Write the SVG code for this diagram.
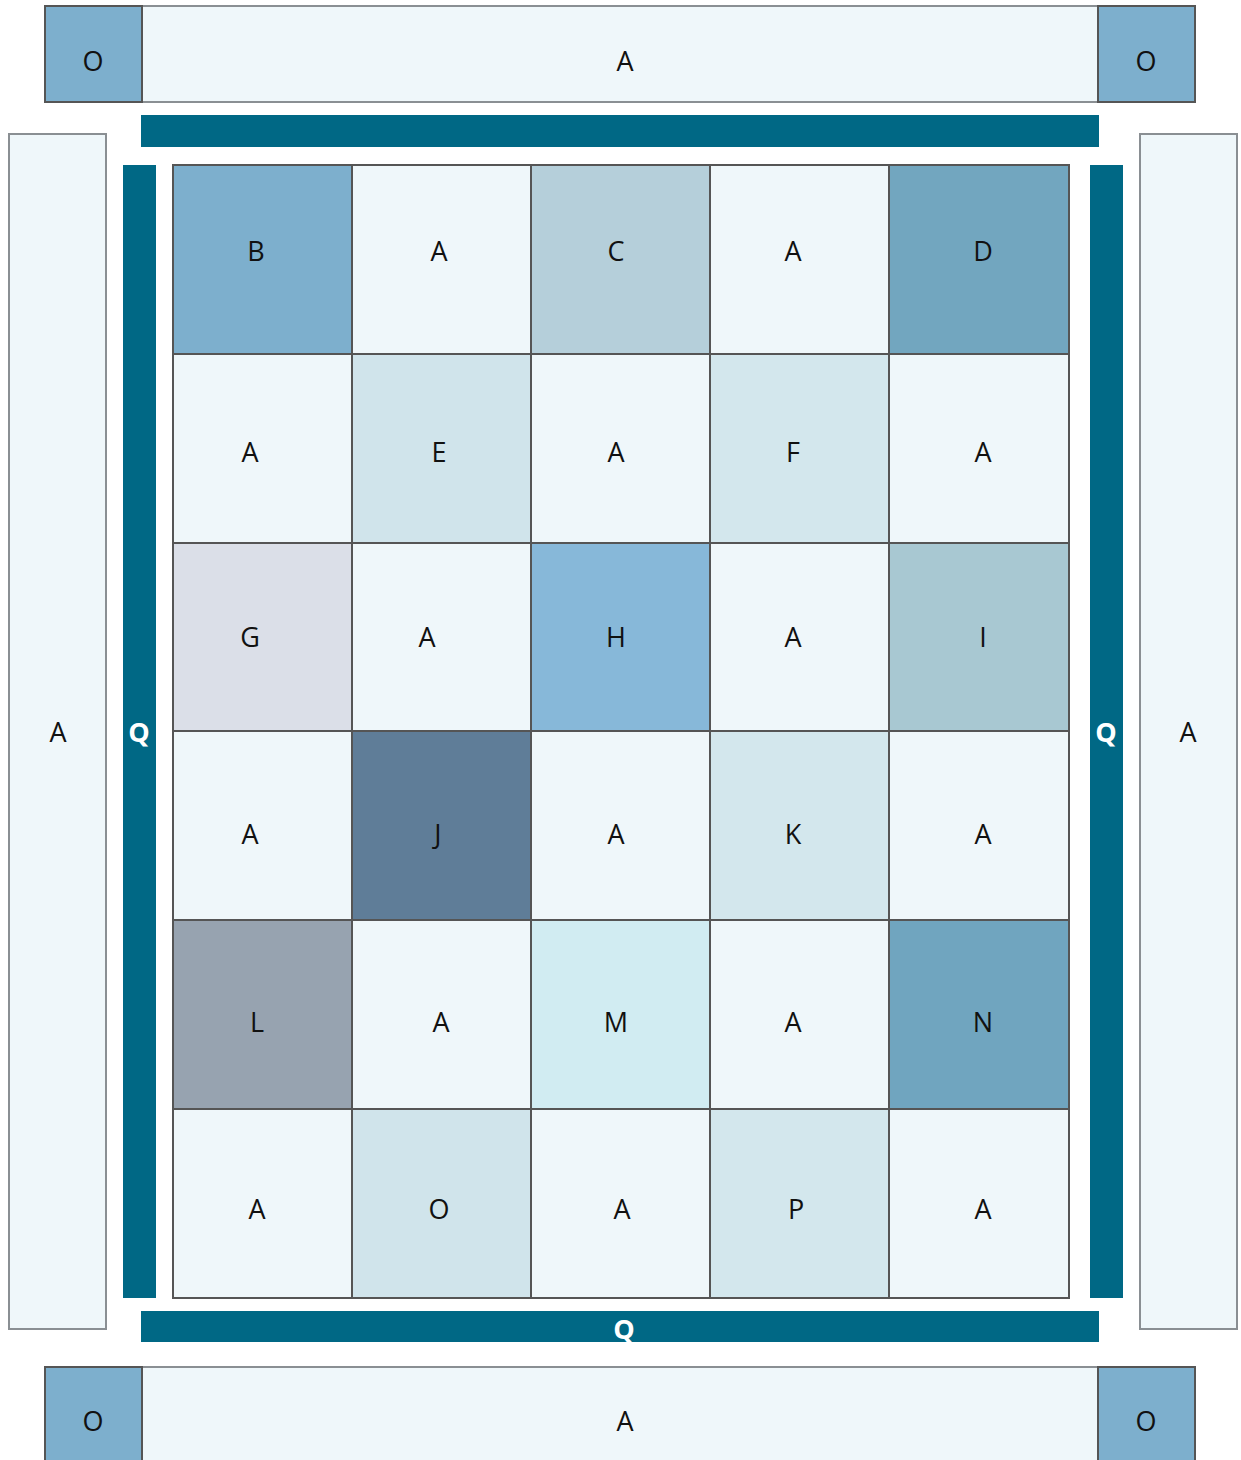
<svg xmlns="http://www.w3.org/2000/svg" width="1241" height="1460" viewBox="0 0 1241 1460">
<style>
text{font-family:"Open Sans","Liberation Sans",sans-serif;font-size:27px;fill:#111;text-anchor:middle;dominant-baseline:central}
.q{fill:#fff;font-weight:bold}
.pan{fill:#eff7fa;stroke:#8a8f93;stroke-width:2}
.cor{fill:#7dafcd;stroke:#555;stroke-width:2}
.bar{fill:#006885}
.c{stroke:#555;stroke-width:2}
</style>
<rect width="1241" height="1460" fill="#fff"/>
<g id="top">
<rect class="pan" x="45" y="6" width="1150" height="96"/>
<rect class="cor" x="45" y="6" width="97" height="96"/><text x="93" y="60">O</text>
<rect class="cor" x="1098" y="6" width="97" height="96"/><text x="1146" y="60">O</text>
<text x="625" y="60">A</text>
</g>
<g id="bottom">
<rect class="pan" x="45" y="1367" width="1150" height="100"/>
<rect class="cor" x="45" y="1367" width="97" height="100"/><text x="93" y="1420">O</text>
<rect class="cor" x="1098" y="1367" width="97" height="100"/><text x="1146" y="1420">O</text>
<text x="625" y="1420">A</text>
</g>
<g id="left"><rect class="pan" x="9" y="134" width="97" height="1195"/><text x="58" y="731">A</text></g>
<g id="right"><rect class="pan" x="1140" y="134" width="97" height="1195"/><text x="1188" y="731">A</text></g>
<g id="bars">
<rect class="bar" x="141" y="115" width="958" height="32"/>
<rect class="bar" x="141" y="1311" width="958" height="31"/><text class="q" x="624" y="1328">Q</text>
<rect class="bar" x="123" y="165" width="33" height="1133"/><text class="q" x="139" y="731">Q</text>
<rect class="bar" x="1090" y="165" width="33" height="1133"/><text class="q" x="1106" y="731">Q</text>
</g>
<g id="grid">
<rect class="c" x="173" y="165" width="179" height="189" fill="#7dafcd"/><text x="256" y="250">B</text>
<rect class="c" x="352" y="165" width="179" height="189" fill="#eff7fa"/><text x="439" y="250">A</text>
<rect class="c" x="531" y="165" width="179" height="189" fill="#b5cfda"/><text x="616" y="250">C</text>
<rect class="c" x="710" y="165" width="179" height="189" fill="#eff7fa"/><text x="793" y="250">A</text>
<rect class="c" x="889" y="165" width="180" height="189" fill="#72a6bf"/><text x="983" y="250">D</text>

<rect class="c" x="173" y="354" width="179" height="189" fill="#eff7fa"/><text x="250" y="451">A</text>
<rect class="c" x="352" y="354" width="179" height="189" fill="#d0e4eb"/><text x="439" y="451">E</text>
<rect class="c" x="531" y="354" width="179" height="189" fill="#eff7fa"/><text x="616" y="451">A</text>
<rect class="c" x="710" y="354" width="179" height="189" fill="#d3e7ed"/><text x="793" y="451">F</text>
<rect class="c" x="889" y="354" width="180" height="189" fill="#eff7fa"/><text x="983" y="451">A</text>

<rect class="c" x="173" y="543" width="179" height="188" fill="#dbdfe8"/><text x="250" y="636">G</text>
<rect class="c" x="352" y="543" width="179" height="188" fill="#eff7fa"/><text x="427" y="636">A</text>
<rect class="c" x="531" y="543" width="179" height="188" fill="#87b8d9"/><text x="616" y="636">H</text>
<rect class="c" x="710" y="543" width="179" height="188" fill="#eff7fa"/><text x="793" y="636">A</text>
<rect class="c" x="889" y="543" width="180" height="188" fill="#a8c8d2"/><text x="983" y="636">I</text>

<rect class="c" x="173" y="731" width="179" height="189" fill="#eff7fa"/><text x="250" y="833">A</text>
<rect class="c" x="352" y="731" width="179" height="189" fill="#5f7d98"/><text x="438" y="833">J</text>
<rect class="c" x="531" y="731" width="179" height="189" fill="#eff7fa"/><text x="616" y="833">A</text>
<rect class="c" x="710" y="731" width="179" height="189" fill="#d3e7ed"/><text x="793" y="833">K</text>
<rect class="c" x="889" y="731" width="180" height="189" fill="#eff7fa"/><text x="983" y="833">A</text>

<rect class="c" x="173" y="920" width="179" height="189" fill="#97a3b0"/><text x="257" y="1021">L</text>
<rect class="c" x="352" y="920" width="179" height="189" fill="#eff7fa"/><text x="441" y="1021">A</text>
<rect class="c" x="531" y="920" width="179" height="189" fill="#d1ecf2"/><text x="616" y="1021">M</text>
<rect class="c" x="710" y="920" width="179" height="189" fill="#eff7fa"/><text x="793" y="1021">A</text>
<rect class="c" x="889" y="920" width="180" height="189" fill="#70a5bf"/><text x="983" y="1021">N</text>

<rect class="c" x="173" y="1109" width="179" height="189" fill="#eff7fa"/><text x="257" y="1208">A</text>
<rect class="c" x="352" y="1109" width="179" height="189" fill="#d0e4eb"/><text x="439" y="1208">O</text>
<rect class="c" x="531" y="1109" width="179" height="189" fill="#eff7fa"/><text x="622" y="1208">A</text>
<rect class="c" x="710" y="1109" width="179" height="189" fill="#d3e7ed"/><text x="796" y="1208">P</text>
<rect class="c" x="889" y="1109" width="180" height="189" fill="#eff7fa"/><text x="983" y="1208">A</text>
</g>
</svg>
